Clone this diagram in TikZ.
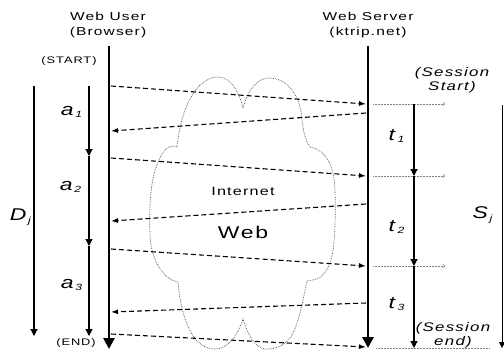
\documentclass[tikz,border=0pt]{standalone}
\usepackage{fontspec}
\setmainfont{Liberation Sans}[FakeStretch=1.35,LetterSpace=10]
\usetikzlibrary{arrows.meta}
\newcommand{\sublab}[2]{\textit{#1}\raisebox{-0.25ex}{\fontsize{9}{9}\selectfont\textit{#2}}}
\tikzset{
  lifeline/.style={line width=2.6pt,-{Triangle[length=11pt,width=11pt]}},
  durarrow/.style={line width=1.1pt,-{Triangle[length=7pt,width=7pt]}},
  msgarrow/.style={line width=1.1pt,dash pattern=on 5pt off 3pt,-{Latex[length=7pt,width=5pt]}},
  fwdarrow/.style={gray,line width=0.5pt,densely dotted,-{To[length=2.5pt,width=4pt]}},
  cloudline/.style={gray!60!black,line width=0.7pt,densely dotted},
  hdr/.style={font=\fontsize{11.5}{15}\selectfont,align=center,inner sep=0pt},
  small/.style={font=\fontsize{9.5}{11}\selectfont,inner sep=0pt},
  lab/.style={font=\fontsize{17}{18}\selectfont,inner sep=0pt},
  sess/.style={font=\fontsize{12.5}{14}\selectfont\itshape,align=center,inner sep=0pt}
}
\begin{document}
\begin{tikzpicture}[x=1pt,y=-1pt]
\useasboundingbox (0,0) rectangle (504,349);
% cloud
\draw[cloudline] (177,147) .. controls (182,100) and (200,77) .. (218,77)
 .. controls (232,77) and (240,95) .. (243,108)
 .. controls (248,90) and (257,78) .. (269,78)
 .. controls (287,78) and (300,95) .. (302,118)
 .. controls (303,132) and (306,142) .. (310,147)
 .. controls (326,150) and (334,165) .. (335,190)
 .. controls (336,230) and (334,255) .. (329,265)
 .. controls (325,275) and (318,280) .. (312,280)
 -- (307,281)
 .. controls (303,300) and (300,318) .. (293,333)
 .. controls (287,345) and (275,350) .. (265,349)
 .. controls (255,348) and (247,333) .. (243,319)
 .. controls (238,335) and (228,349) .. (215,349)
 .. controls (195,349) and (182,325) .. (178,282)
 -- (172,280)
 .. controls (158,272) and (151,255) .. (150,235)
 .. controls (149,200) and (151,175) .. (160,158)
 .. controls (163,150) and (170,144) .. (177,147) -- cycle;
\node[font=\fontsize{12}{14}\selectfont] (inet) at (243,191) {Internet};
\node[font=\fontsize{17}{19}\selectfont] (web) at (243,232) {Web};
% headers
\node[hdr] (user) at (108,25) {Web User\\(Browser)};
\node[hdr] (server) at (368,25) {Web Server\\(ktrip.net)};
\node[small] (start) at (69,61) {(START)};
\node[small] (end) at (76,343) {(END)};
% lifelines
\coordinate (ut) at (109,46); \coordinate (ub) at (109,349);
\coordinate (st) at (368,46); \coordinate (sb) at (368,348);
\draw[lifeline] (ut) -- (ub);
\draw[lifeline] (st) -- (sb);
% D and a arrows
\coordinate (d0) at (34,86); \coordinate (d1) at (34,336);
\draw[durarrow] (d0) -- (d1);
\coordinate (a0) at (89,86); \coordinate (a1) at (89,156);
\coordinate (a2) at (89,246); \coordinate (a3) at (89,336);
\draw[durarrow] (a0) -- (a1);
\draw[durarrow] (a1) -- (a2);
\draw[durarrow] (a2) -- (a3);
\node[lab] (la1) at (72,112) {\sublab{a}{1}};
\node[lab] (la2) at (71,187) {\sublab{a}{2}};
\node[lab] (la3) at (72,285) {\sublab{a}{3}};
\node[lab] (ld) at (21,217) {\sublab{D}{j}};
% messages
\coordinate (m1a) at (111,86);  \coordinate (m1b) at (366,104);
\coordinate (m2a) at (366,113); \coordinate (m2b) at (111,131);
\coordinate (m3a) at (111,158); \coordinate (m3b) at (366,176);
\coordinate (m4a) at (366,204); \coordinate (m4b) at (111,221);
\coordinate (m5a) at (111,249); \coordinate (m5b) at (366,266);
\coordinate (m6a) at (366,303); \coordinate (m6b) at (111,312);
\coordinate (m7a) at (111,334); \coordinate (m7b) at (366,347);
\foreach \i in {1,...,7} {\draw[msgarrow] (m\i a) -- (m\i b);}
% forwarding
\coordinate (f1a) at (373,104); \coordinate (f1b) at (445,104);
\coordinate (f2a) at (373,176); \coordinate (f2b) at (445,176);
\coordinate (f3a) at (373,266); \coordinate (f3b) at (445,266);
\foreach \i in {1,2,3} {\draw[fwdarrow] (f\i a) -- (f\i b);}
\coordinate (f4a) at (376,348); \coordinate (f4b) at (490,348);
\draw[gray,line width=0.5pt,densely dotted] (f4a) -- (f4b);
% t arrows
\coordinate (t0) at (414,104); \coordinate (t1) at (414,176);
\coordinate (t2) at (414,266); \coordinate (t3) at (414,348);
\draw[durarrow] (t0) -- (t1);
\draw[durarrow] (t1) -- (t2);
\draw[durarrow] (t2) -- (t3);
\node[lab] (lt1) at (397,136) {\sublab{t}{1}};
\node[lab] (lt2) at (397,227) {\sublab{t}{2}};
\node[lab] (lt3) at (397,304) {\sublab{t}{3}};
% S arrow
\coordinate (s0) at (502,105); \coordinate (s1) at (502,348);
\draw[line width=0.9pt,-{Triangle[length=6pt,width=6pt]}] (s0) -- (s1);
\node[lab] (ls) at (483,215) {\sublab{S}{j}};
\node[sess] (ss) at (452,80) {(Session\\Start)};
\node[sess] (se) at (453,335) {(Session\\end)};
\end{tikzpicture}
\end{document}
